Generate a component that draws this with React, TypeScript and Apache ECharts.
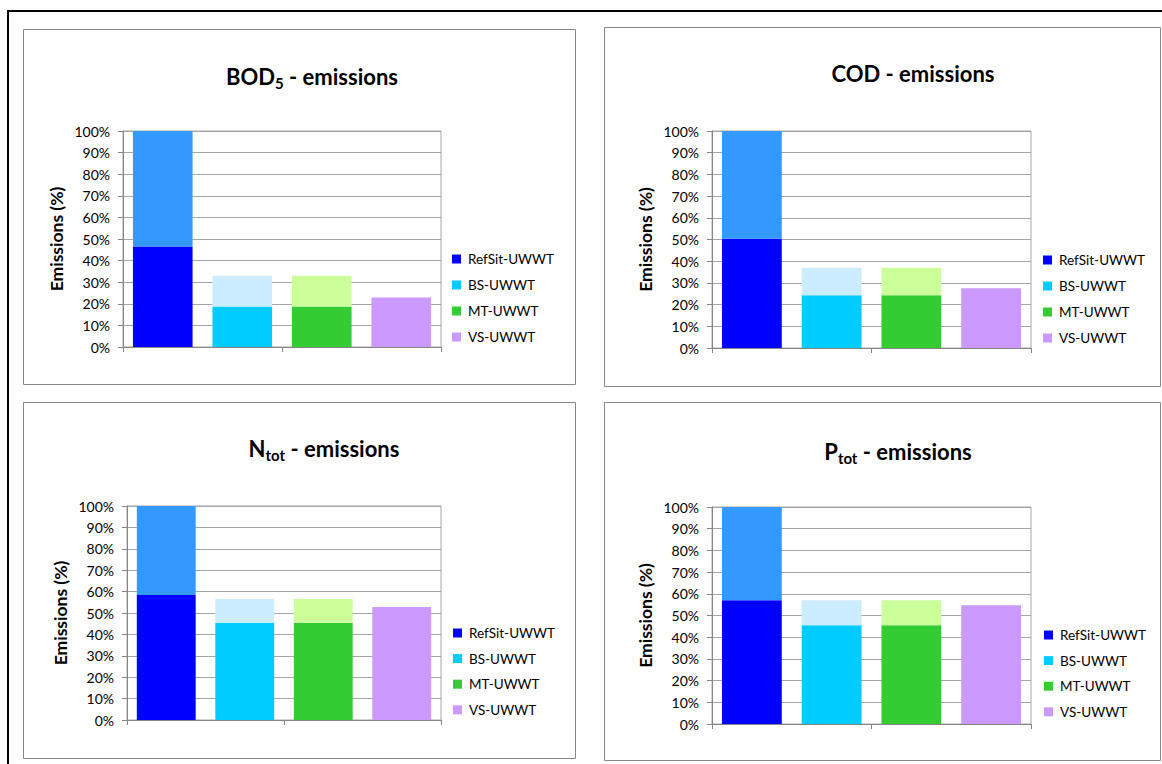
import React, { useEffect, useRef } from "react";
import * as echarts from "echarts";

// ---- data ----
const categories = ["RefSit-UWWT", "BS-UWWT", "MT-UWWT", "VS-UWWT"];
const yTicks = [0, 10, 20, 30, 40, 50, 60, 70, 80, 90, 100];

// bottom (remaining) part of each bar, in %
const bodBase = [46.5, 18.7, 18.7, 22.9];
const bodTotal = [100, 33.0, 33.0, 22.9];
const codBase = [50.4, 24.3, 24.3, 27.5];
const codTotal = [100, 37.0, 37.0, 27.5];
const ntotBase = [58.4, 45.5, 45.5, 52.8];
const ntotTotal = [100, 56.5, 56.5, 52.8];
const ptotBase = [57.0, 45.5, 45.5, 54.7];
const ptotTotal = [100, 57.0, 57.0, 54.7];

const baseColors = ["#0000FF", "#00CCFF", "#33CC33", "#CC99FF"];
const upperColors = ["#3399FF", "#CCECFF", "#CCFF99", "#CC99FF"];

const FONT = "Lato";

type Part = [string, boolean];
const panels = [
  {
    box: [23, 29, 552, 355],
    grid: { left: 123, top: 131, width: 318, height: 216 },
    legend: { left: 452, top: 252, gap: 12 },
    title: { cx: 312, cy: 76, parts: [["BOD", false], ["5", true], [" - emissions", false]] as Part[] },
    base: bodBase,
    total: bodTotal,
  },
  {
    box: [604, 27, 556, 359],
    grid: { left: 712, top: 131, width: 319, height: 217 },
    legend: { left: 1043, top: 253, gap: 12 },
    title: { cx: 913, cy: 73, parts: [["COD - emissions", false]] as Part[] },
    base: codBase,
    total: codTotal,
  },
  {
    box: [23, 402, 552, 356],
    grid: { left: 127, top: 506, width: 314, height: 214 },
    legend: { left: 453, top: 626, gap: 11.6 },
    title: { cx: 324, cy: 448, parts: [["N", false], ["tot", true], [" - emissions", false]] as Part[] },
    base: ntotBase,
    total: ntotTotal,
  },
  {
    box: [604, 402, 556, 358],
    grid: { left: 712, top: 507, width: 319, height: 217 },
    legend: { left: 1044, top: 628, gap: 11.6 },
    title: { cx: 898, cy: 451, parts: [["P", false], ["tot", true], [" - emissions", false]] as Part[] },
    base: ptotBase,
    total: ptotTotal,
  },
];

const MAIN_SIZE = 22;
const SUB_SIZE = 15;

function measure(text: string, size: number): number {
  const c = document.createElement("canvas");
  const ctx = c.getContext("2d");
  if (!ctx) return text.length * size * 0.55;
  ctx.font = `bold ${size}px ${FONT}`;
  return ctx.measureText(text).width;
}

function titleElements(cx: number, cy: number, parts: Part[]) {
  const widths = parts.map(([t, sub]) => measure(t, sub ? SUB_SIZE : MAIN_SIZE));
  const total = widths.reduce((a, b) => a + b, 0);
  let x = cx - total / 2;
  const els: any[] = [];
  parts.forEach(([t, sub], i) => {
    els.push({
      type: "text",
      x,
      y: sub ? cy + 7 : cy,
      silent: true,
      style: {
        text: t,
        fontSize: sub ? SUB_SIZE : MAIN_SIZE,
        fontWeight: "bold",
        fontFamily: FONT,
        fill: "#000",
        align: "left",
        verticalAlign: "middle",
        textAlign: "left",
        textVerticalAlign: "middle",
      },
    });
    x += widths[i];
  });
  return els;
}

export default function App() {
  const ref = useRef<HTMLDivElement>(null);
  useEffect(() => {
    if (!ref.current) return;
    const chart = echarts.init(ref.current, null, { renderer: "svg" });

    const grids: any[] = [];
    const xAxes: any[] = [];
    const yAxes: any[] = [];
    const legends: any[] = [];
    const series: any[] = [];
    const graphics: any[] = [];

    graphics.push({
      type: "polyline",
      silent: true,
      shape: { points: [[8, 764], [8, 11], [1162, 11]] },
      style: { stroke: "#000", lineWidth: 2, fill: null },
    });

    panels.forEach((p, pi) => {
      graphics.push({
        type: "rect",
        silent: true,
        shape: { x: p.box[0] + 0.5, y: p.box[1] + 0.5, width: p.box[2], height: p.box[3] },
        style: { fill: "#fff", stroke: "#888", lineWidth: 1 },
        z: -10,
      });
      graphics.push(...titleElements(p.title.cx, p.title.cy, p.title.parts));

      grids.push({
        ...p.grid,
        show: true,
        borderColor: "#A6A6A6",
        borderWidth: 1,
        backgroundColor: "transparent",
        containLabel: false,
      });
      xAxes.push({
        type: "category",
        gridIndex: pi,
        data: categories,
        boundaryGap: true,
        axisLabel: { show: false },
        axisTick: { show: true, length: 5, alignWithLabel: false, lineStyle: { color: "#868686" } },
        axisLine: { show: true, lineStyle: { color: "#868686" } },
        splitLine: { show: false },
      });
      yAxes.push({
        type: "value",
        gridIndex: pi,
        min: yTicks[0],
        max: yTicks[yTicks.length - 1],
        interval: yTicks[1] - yTicks[0],
        name: "Emissions (%)",
        nameLocation: "middle",
        nameGap: 58,
        nameTextStyle: { fontFamily: FONT, fontSize: 17.5, fontWeight: "bold", color: "#000" },
        axisLabel: {
          formatter: "{value}%",
          fontFamily: FONT,
          fontSize: 14,
          color: "#000",
          margin: 13,
        },
        axisTick: { show: true, length: 5, lineStyle: { color: "#868686" } },
        axisLine: { show: true, lineStyle: { color: "#868686" } },
        splitLine: { show: true, lineStyle: { color: "#A6A6A6", width: 1 } },
      });
      legends.push({
        orient: "vertical",
        left: p.legend.left,
        top: p.legend.top,
        padding: 0,
        data: categories,
        icon: "rect",
        itemWidth: 9,
        itemHeight: 9,
        itemGap: p.legend.gap,
        selectedMode: false,
        textStyle: { fontFamily: FONT, fontSize: 13.5, color: "#000", padding: [0, 0, 0, 2] },
      });

      categories.forEach((name, ci) => {
        series.push({
          type: "bar",
          name,
          xAxisIndex: pi,
          yAxisIndex: pi,
          stack: "s" + pi,
          barWidth: "75%",
          itemStyle: { color: baseColors[ci] },
          data: categories.map((_, k) => (k === ci ? p.base[k] : "-")),
        });
      });
      series.push({
        type: "bar",
        name: "Reduction",
        xAxisIndex: pi,
        yAxisIndex: pi,
        stack: "s" + pi,
        barWidth: "75%",
        data: categories.map((_, k) => {
          const v = p.total[k] - p.base[k];
          return v > 0.001 ? { value: v, itemStyle: { color: upperColors[k] } } : "-";
        }),
      });
    });

    chart.setOption({
      animation: false,
      backgroundColor: "#fff",
      textStyle: { fontFamily: FONT },
      grid: grids,
      xAxis: xAxes,
      yAxis: yAxes,
      legend: legends,
      series,
      graphic: { elements: graphics },
    });
    return () => chart.dispose();
  }, []);
  return (
    <div
      ref={ref}
      style={{ position: "absolute", left: 0, top: 0, width: 1162, height: 764 }}
    />
  );
}
